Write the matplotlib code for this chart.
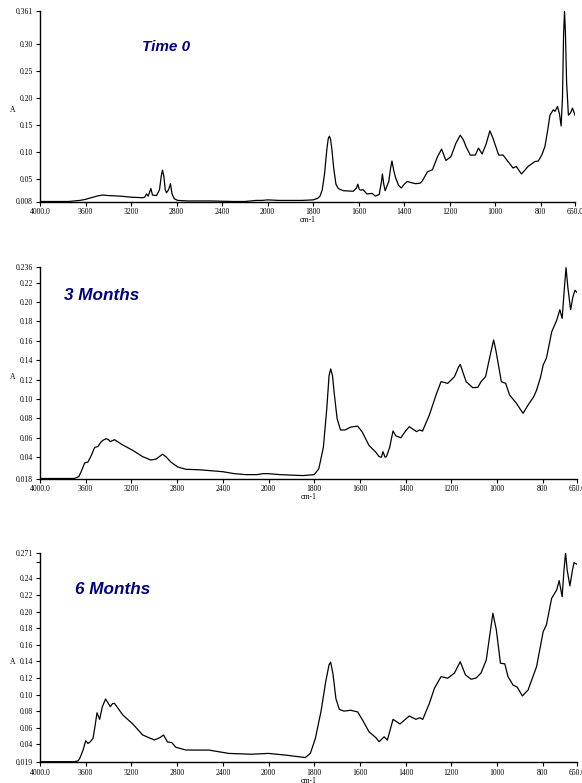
import numpy as np
import matplotlib.pyplot as plt

# FTIR spectra, absorbance vs wavenumber (cm-1)
t0_wn = [4000, 3750, 3650, 3600, 3550, 3500, 3450, 3400, 3300, 3200, 3100, 3080, 3064, 3050, 3026, 3012,
         2976, 2950, 2935, 2924, 2912, 2900, 2889, 2870, 2854, 2840, 2820, 2790, 2700, 2500, 2300, 2200,
         2100, 2050, 2000, 1950, 1850, 1800, 1780, 1770, 1760, 1750, 1740, 1734, 1729, 1724, 1718, 1710, 1700,
         1690, 1668, 1624, 1610, 1604, 1597, 1590, 1581, 1564, 1541, 1527, 1510, 1500, 1496, 1490, 1484,
         1468, 1460, 1454, 1446, 1438, 1425, 1413, 1400, 1387, 1370, 1350, 1330, 1321, 1298, 1276, 1254,
         1236, 1217, 1195, 1173, 1154, 1140, 1129, 1110, 1088, 1074, 1058, 1040, 1024, 1010, 1003, 985,
         966, 944, 922, 908, 885, 856, 826, 811, 795, 782, 770, 760, 745, 738, 727, 718, 711, 705, 700,
         696, 692, 687, 679, 670, 661, 650]
t0_abs = [0.008, 0.008, 0.010, 0.012, 0.015, 0.018, 0.020, 0.019, 0.018, 0.016, 0.015, 0.016, 0.022, 0.018, 0.032, 0.020,
          0.019, 0.030, 0.055, 0.066, 0.055, 0.030, 0.024, 0.030, 0.041, 0.022, 0.013, 0.010, 0.009, 0.009, 0.008, 0.008,
          0.010, 0.010, 0.011, 0.010, 0.010, 0.011, 0.014, 0.018, 0.030, 0.060, 0.105, 0.124, 0.129, 0.124, 0.105, 0.070, 0.040,
          0.032, 0.028, 0.027, 0.033, 0.040, 0.030, 0.029, 0.030, 0.022, 0.023, 0.018, 0.021, 0.045, 0.059, 0.040, 0.028,
          0.045, 0.070, 0.083, 0.065, 0.052, 0.038, 0.033, 0.040, 0.045, 0.043, 0.041, 0.042, 0.046, 0.063, 0.067, 0.091,
          0.105, 0.084, 0.091, 0.116, 0.131, 0.122, 0.110, 0.094, 0.094, 0.107, 0.096, 0.115, 0.139, 0.125, 0.116, 0.094,
          0.094, 0.082, 0.070, 0.073, 0.059, 0.073, 0.082, 0.083, 0.095, 0.110, 0.140, 0.168, 0.178, 0.175, 0.184, 0.170, 0.148, 0.200, 0.320,
          0.360, 0.320, 0.230, 0.168, 0.172, 0.181, 0.168]

m3_wn = [4000, 3700, 3660, 3640, 3623, 3609, 3580, 3550, 3522, 3493, 3464, 3440, 3420, 3400, 3385, 3348, 3275,
         3188, 3101, 3029, 2985, 2950, 2927, 2898, 2855, 2797, 2724, 2608, 2500, 2400, 2300, 2200, 2100, 2050,
         2000, 1950, 1850, 1800, 1780, 1760, 1745, 1735, 1728, 1720, 1712, 1700, 1685, 1665, 1640, 1610, 1590,
         1560, 1530, 1516, 1506, 1499, 1490, 1484, 1470, 1455, 1443, 1421, 1400, 1384, 1352, 1340, 1326, 1296,
         1267, 1245, 1230, 1216, 1186, 1170, 1161, 1150, 1135, 1106, 1084, 1070, 1050, 1030, 1015, 1005, 996,
         981, 962, 945, 915, 900, 886, 864, 840, 827, 810, 798, 784, 770, 761, 739, 725, 715, 705, 698, 690,
         678, 668, 659, 650]
m3_abs = [0.018, 0.018, 0.020, 0.025, 0.030, 0.034, 0.035, 0.042, 0.050, 0.051, 0.056, 0.058, 0.059, 0.058, 0.056, 0.058, 0.0525,
          0.047, 0.0405, 0.037, 0.038, 0.041, 0.043, 0.0405, 0.035, 0.030, 0.0275, 0.027, 0.026, 0.025, 0.023, 0.022, 0.022, 0.023,
          0.023, 0.022, 0.021, 0.022, 0.028, 0.050, 0.090, 0.124, 0.131, 0.124, 0.105, 0.080, 0.068, 0.068, 0.071, 0.072, 0.066,
          0.052, 0.045, 0.0405, 0.040, 0.0456, 0.040, 0.0405, 0.050, 0.067, 0.062, 0.060, 0.067, 0.0714, 0.0663, 0.068, 0.0669, 0.0835,
          0.104, 0.1178, 0.117, 0.116, 0.123, 0.132, 0.1357, 0.128, 0.1178, 0.1116, 0.112, 0.1178, 0.123, 0.145, 0.1608, 0.150, 0.138,
          0.1178, 0.116, 0.104, 0.0955, 0.090, 0.0852, 0.0938, 0.102, 0.109, 0.122, 0.135, 0.142, 0.158, 0.169, 0.181, 0.192, 0.183, 0.215, 0.2353, 0.215,
          0.192, 0.205, 0.212, 0.2098]

m6_wn = [4000, 3700, 3667, 3652, 3623, 3600, 3580, 3560, 3536, 3515, 3501, 3478, 3455, 3426, 3405, 3385, 3365,
         3348, 3275, 3188, 3101, 3000, 2950, 2919, 2884, 2846, 2811, 2724, 2609, 2522, 2348, 2148, 2000, 1927,
         1839, 1817, 1795, 1770, 1750, 1735, 1728, 1718, 1705, 1690, 1670, 1640, 1610, 1590, 1560, 1530, 1516,
         1494, 1480, 1455, 1425, 1384, 1355, 1337, 1325, 1296, 1274, 1245, 1216, 1186, 1161, 1138, 1113, 1091,
         1070, 1047, 1030, 1018, 1003, 985, 966, 952, 930, 912, 889, 864, 827, 798, 784, 761, 739, 728, 715,
         707, 700, 693, 681, 670, 663, 650]
m6_abs = [0.019, 0.019, 0.020, 0.023, 0.033, 0.0443, 0.041, 0.043, 0.0472, 0.065, 0.078, 0.070, 0.085, 0.0946, 0.090, 0.0853, 0.089,
          0.0894, 0.0753, 0.0645, 0.0512, 0.0452, 0.048, 0.0512, 0.0428, 0.042, 0.0364, 0.0331, 0.033, 0.033, 0.029, 0.028, 0.029, 0.027,
          0.024, 0.029, 0.047, 0.080, 0.115, 0.136, 0.139, 0.125, 0.095, 0.082, 0.080, 0.081, 0.079, 0.070, 0.055, 0.048, 0.0431,
          0.049, 0.045, 0.0701, 0.0645, 0.0741, 0.0701, 0.072, 0.070, 0.0894, 0.1075, 0.1216, 0.1196, 0.126, 0.1396, 0.1236, 0.1184, 0.12,
          0.126, 0.1417, 0.175, 0.198, 0.1779, 0.1377, 0.137, 0.1216, 0.1115, 0.109, 0.0983, 0.1055, 0.1336, 0.1758, 0.1839, 0.216, 0.226, 0.2373, 0.218,
          0.250, 0.271, 0.250, 0.231, 0.250, 0.259, 0.257]

titles = ['Time 0', '3 Months', '6 Months']
xticks = [4000, 3600, 3200, 2800, 2400, 2000, 1800, 1600, 1400, 1200, 1000, 800, 650]
xlabels = ['4000.0', '3600', '3200', '2800', '2400', '2000', '1800', '1600', '1400', '1200', '1000', '800', '650.0']
yticks = [[0.008, 0.05, 0.10, 0.15, 0.20, 0.25, 0.30, 0.361],
          [0.018, 0.04, 0.06, 0.08, 0.10, 0.12, 0.14, 0.16, 0.18, 0.20, 0.22, 0.236],
          [0.019, 0.04, 0.06, 0.08, 0.10, 0.12, 0.14, 0.16, 0.18, 0.20, 0.22, 0.24, 0.26, 0.271]]
ylabels = [['0.008', '0.05', '0.10', '0.15', '0.20', '0.25', '0.30', '0.361'],
           ['0.018', '0.04', '0.06', '0.08', '0.10', '0.12', '0.14', '0.16', '0.18', '0.20', '0.22', '0.236'],
           ['0.019', '0.04', '0.06', '0.08', '0.10', '0.12', '0.14', '0.16', '0.18', '0.20', '0.22', '0.24', '', '0.271']]


# wavenumber axis compressed 2:1 above 2000 cm-1
def fwd(x):
    x = np.asarray(x, dtype=float)
    return np.where(x > 2000, 2000 + (x - 2000) / 2, x)


def inv(y):
    y = np.asarray(y, dtype=float)
    return np.where(y > 2000, 2000 + (y - 2000) * 2, y)


W, H = 582, 783
fig = plt.figure(figsize=(W / 100, H / 100), dpi=100)
serif = 'Liberation Serif'

# axes boxes in pixels: left, right, top, bottom
boxes = [(40, 575, 11, 201.5), (40, 577, 267, 478.5), (40, 577, 552.7, 761.7)]
# title centres in pixels
tpos = [(166, 47, 11), (102, 295, 12.3), (113, 589, 12.3)]
spectra = [(t0_wn, t0_abs), (m3_wn, m3_abs), (m6_wn, m6_abs)]

for i in range(3):
    l, r, t, b = boxes[i]
    ax = fig.add_axes([l / W, 1 - b / H, (r - l) / W, (b - t) / H])
    wn, ab = spectra[i]
    ax.plot(wn, ab, color='black', lw=0.9)
    ax.set_xscale('function', functions=(fwd, inv))
    ax.set_xlim(4000, 650)
    ax.set_ylim(yticks[i][0], yticks[i][-1])
    ax.set_xticks(xticks)
    ax.set_xticklabels(xlabels, family=serif, fontsize=5.5)
    ax.set_yticks(yticks[i])
    ax.set_yticklabels(ylabels[i], family=serif, fontsize=5.5)
    ax.minorticks_off()
    ax.tick_params(direction='out', length=3, width=0.8, pad=2)
    for s in ['top', 'right']:
        ax.spines[s].set_visible(False)
    ax.spines['left'].set_linewidth(1.0)
    ax.spines['bottom'].set_linewidth(1.0)
    ax.set_xlabel('cm-1', family=serif, fontsize=5.5, labelpad=0)
    ax.set_ylabel('A', family=serif, fontsize=5.5, rotation=0)
    ax.yaxis.set_label_coords(-27 / (r - l), 0.46)
    tx, ty, fs = tpos[i]
    fig.text(tx / W, 1 - ty / H, titles[i], color='#000080', fontsize=fs, family='Liberation Sans',
             weight='bold', style='italic', ha='center', va='center')

fig.savefig('out.png', dpi=100)
